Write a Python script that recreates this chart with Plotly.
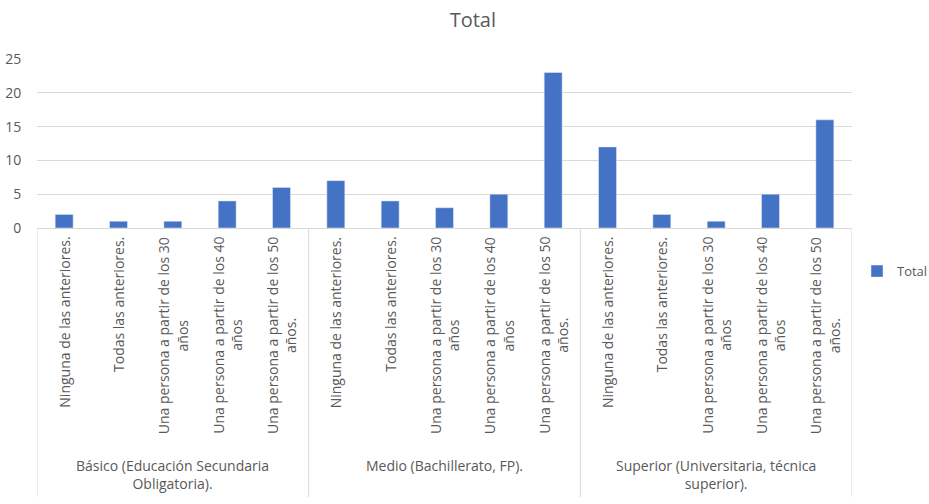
import plotly.graph_objects as go

# Survey totals by education level and answer option
groups = [
    "Básico (Educación Secundaria<br>Obligatoria).",
    "Medio (Bachillerato, FP).",
    "Superior (Universitaria, técnica<br>superior).",
]
options = [
    "Ninguna de las anteriores.",
    "Todas las anteriores.",
    "Una persona a partir de los 30<br>años",
    "Una persona a partir de los 40<br>años",
    "Una persona a partir de los 50<br>años.",
]
basico = [2, 1, 1, 4, 6]
medio = [7, 4, 3, 5, 23]
superior = [12, 2, 1, 5, 16]

values = basico + medio + superior
labels = options * len(groups)
xpos = list(range(len(values)))

TEXT = "#595959"
GRID = "#d9d9d9"
BLUE = "#4472C4"
FONT = "Open Sans"

fig = go.Figure()
fig.add_trace(go.Bar(x=xpos, y=values, name="Total", marker_color=BLUE,
                     showlegend=True))

# plot area is 169 px tall; convert pixel offsets below the axis to paper units
PLOT_H = 169.0

annotations = []
for i, lab in enumerate(labels):
    annotations.append(dict(
        x=i, xref="x", y=-7 / PLOT_H, yref="paper",
        text=lab, textangle=-90, showarrow=False,
        xanchor="center", yanchor="top", align="center",
        font=dict(family=FONT, size=14, color=TEXT),
    ))

n = len(options)
for g, name in enumerate(groups):
    annotations.append(dict(
        x=g * n + (n - 1) / 2, xref="x", y=-226 / PLOT_H, yref="paper",
        text=name, showarrow=False, xanchor="center", yanchor="top",
        align="center", font=dict(family=FONT, size=14, color=TEXT),
    ))

shapes = []
for g in range(len(groups) + 1):
    xb = g * n - 0.5
    shapes.append(dict(type="line", xref="x", yref="paper",
                       x0=xb, x1=xb, y0=0, y1=-269 / PLOT_H,
                       line=dict(color=GRID, width=1)))

fig.update_layout(
    width=929, height=504,
    margin=dict(l=37, r=77, t=59, b=276, autoexpand=False),
    paper_bgcolor="white", plot_bgcolor="white",
    title=dict(text="Total", x=0.509, xanchor="center", y=0.96, yanchor="middle",
               font=dict(family=FONT, size=20, color=TEXT)),
    bargap=0.67,
    font=dict(family=FONT, color=TEXT),
    legend=dict(xref="container", yref="container", x=0.9225, y=0.462,
                xanchor="left", yanchor="middle",
                font=dict(family=FONT, size=13, color=TEXT),
                itemwidth=30, bgcolor="rgba(0,0,0,0)"),
    annotations=annotations,
    shapes=shapes,
)
fig.update_xaxes(range=[-0.5, len(values) - 0.5], showticklabels=False,
                 showgrid=False, zeroline=False, showline=True,
                 linecolor=GRID, linewidth=1, ticks="")
fig.update_yaxes(range=[0, 25], dtick=5, showgrid=True, gridcolor=GRID,
                 gridwidth=1, zeroline=False, showline=False,
                 ticks="outside", ticklen=12, tickcolor="rgba(0,0,0,0)",
                 tickfont=dict(family=FONT, size=14, color=TEXT))

fig.write_html("out.html")
